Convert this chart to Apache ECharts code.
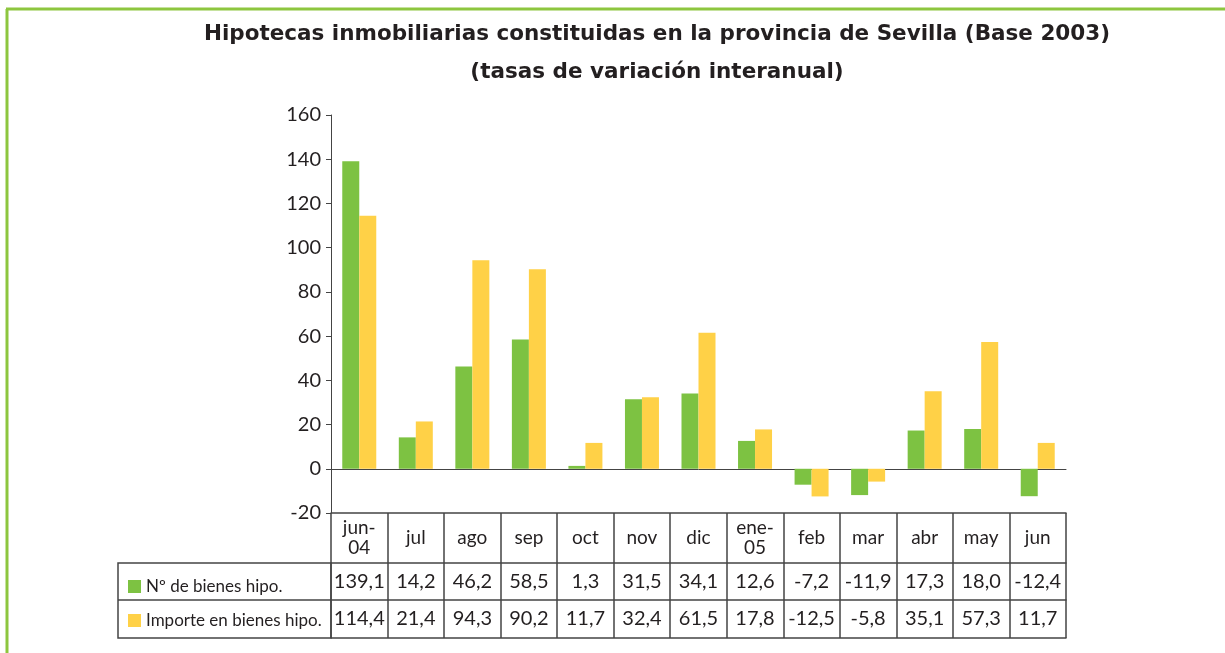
<!DOCTYPE html>
<html>
<head>
<meta charset="utf-8">
<script src="https://cdn.jsdelivr.net/npm/echarts@6/dist/echarts.min.js"></script>
<style>
  html, body { margin: 0; padding: 0; background: #fff; }
  #chart { width: 1225px; height: 653px; }
</style>
</head>
<body>
<div id="chart"></div>
<script>
// datos
var meses = ["jun-\n04", "jul", "ago", "sep", "oct", "nov", "dic", "ene-\n05", "feb", "mar", "abr", "may", "jun"];
var bienes = [139.1, 14.2, 46.2, 58.5, 1.3, 31.5, 34.1, 12.6, -7.2, -11.9, 17.3, 18.0, -12.4];
var importe = [114.4, 21.4, 94.3, 90.2, 11.7, 32.4, 61.5, 17.8, -12.5, -5.8, 35.1, 57.3, 11.7];
var nombres = ["Nº de bienes hipo.", "Importe en bienes hipo."];

var fuente = "Lato, 'Open Sans', sans-serif";
var gris = "#444";
var texto = "#231f20";

function coma(v) { return v.toFixed(1).replace(".", ","); }

var chart = echarts.init(document.getElementById("chart"));

var option = {
	backgroundColor: "#fff",
	animation: false,
	title: {
		text: "Hipotecas inmobiliarias constituidas en la provincia de Sevilla (Base 2003)\n(tasas de variación interanual)",
		left: 652,
		textAlign: "center",
		top: 10,
		textStyle: { fontFamily: "'DejaVu Sans', sans-serif", fontSize: 21.5, fontWeight: "bold", color: texto, lineHeight: 38 }
	},
	legend: {
		orient: "vertical",
		left: 123,
		top: 573,
		itemWidth: 13,
		itemHeight: 13,
		itemGap: 17,
		icon: "rect",
		selectedMode: false,
		data: nombres,
		textStyle: { fontFamily: fuente, fontSize: 17, color: texto, padding: [0, 0, 0, 0] }
	},
	grid: { left: 331, right: 159, top: 115, bottom: 140 },
	yAxis: {
		type: "value",
		min: -20, max: 160, interval: 20,
		axisLine: { show: true, lineStyle: { color: gris, width: 1 } },
		axisTick: { show: true, length: 5, lineStyle: { color: gris } },
		splitLine: { show: false },
		axisLabel: { fontFamily: fuente, fontSize: 20, color: texto, margin: 10 }
	},
	xAxis: [
		{
			type: "category", data: meses,
			axisLine: { onZero: true, lineStyle: { color: gris, width: 1 } },
			axisTick: { show: false },
			axisLabel: { show: false }
		},
		{
			type: "category", data: meses, position: "bottom", gridIndex: 0,
			axisLine: { onZero: false, lineStyle: { color: gris, width: 1.5 } },
			axisTick: { show: true, length: 125, interval: 0, lineStyle: { color: gris, width: 1.5 } },
			axisLabel: { interval: 0, fontFamily: fuente, fontSize: 19, lineHeight: 20, color: texto, verticalAlign: "middle", margin: 25 }
		},
		{
			type: "category", data: bienes.map(coma), position: "bottom", offset: 50,
			axisLine: { onZero: false, lineStyle: { color: gris, width: 1.5 } },
			axisTick: { show: false },
			axisLabel: { interval: 0, fontFamily: fuente, fontSize: 20, color: texto, verticalAlign: "middle", margin: 19 }
		},
		{
			type: "category", data: importe.map(coma), position: "bottom", offset: 87,
			axisLine: { onZero: false, lineStyle: { color: gris, width: 1.5 } },
			axisTick: { show: false },
			axisLabel: { interval: 0, fontFamily: fuente, fontSize: 20, color: texto, verticalAlign: "middle", margin: 19 }
		},
		{
			type: "category", data: meses, position: "bottom", offset: 125,
			axisLine: { onZero: false, lineStyle: { color: gris, width: 1.5 } },
			axisTick: { show: false },
			axisLabel: { show: false }
		}
	],
	series: [
		{
			name: nombres[0], type: "bar", data: bienes,
			barWidth: 17, barGap: "0%",
			itemStyle: { color: "#7dc242" }
		},
		{
			name: nombres[1], type: "bar", data: importe,
			barWidth: 17,
			itemStyle: { color: "#ffd147" }
		}
	],
	graphic: [
		// marco verde
		{ type: "line", shape: { x1: 6, y1: 9, x2: 1225, y2: 9 }, style: { stroke: "#8dc63f", lineWidth: 3 } },
		{ type: "line", shape: { x1: 7, y1: 9, x2: 7, y2: 653 }, style: { stroke: "#8dc63f", lineWidth: 3 } },
		// celdas de la leyenda
		{ type: "rect", shape: { x: 118, y: 563, width: 213, height: 75 }, style: { fill: "none", stroke: gris, lineWidth: 1.5 } },
		{ type: "line", shape: { x1: 118, y1: 600, x2: 331, y2: 600 }, style: { stroke: gris, lineWidth: 1.5 } }
	]
};

chart.setOption(option);
</script>
</body>
</html>
